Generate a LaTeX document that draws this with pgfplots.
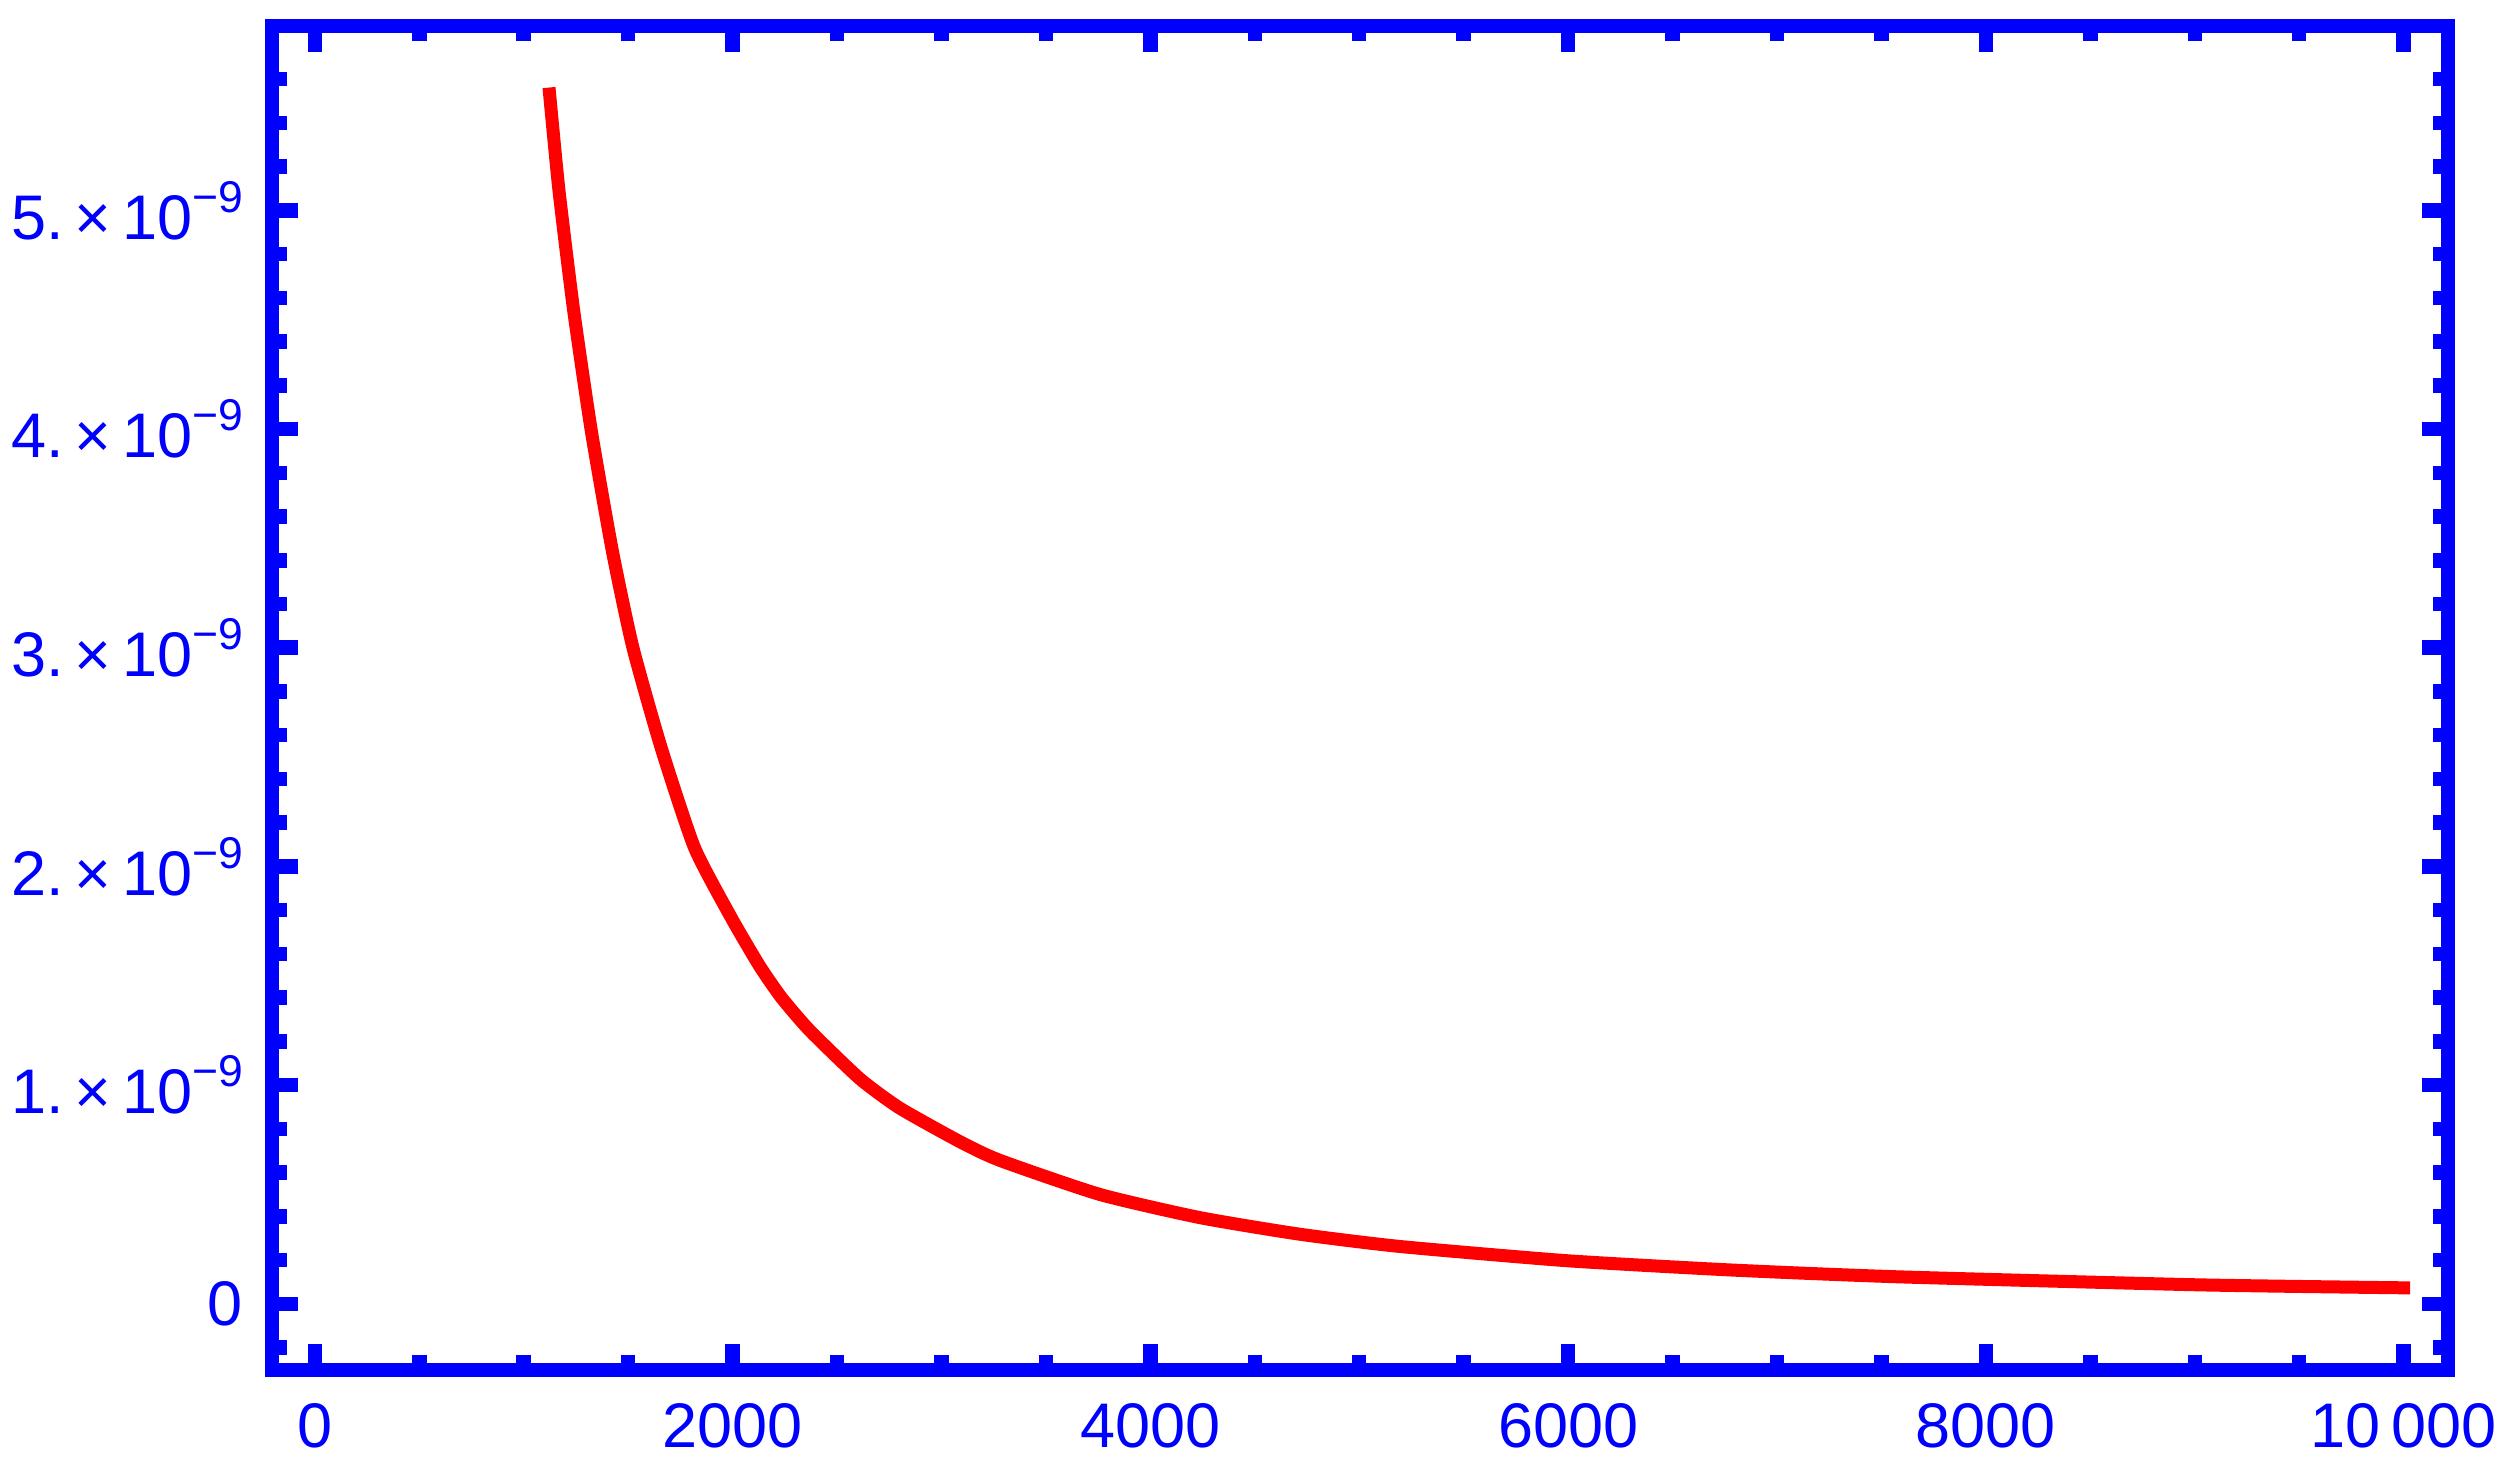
\documentclass[border=0pt]{standalone}
\usepackage{fontspec}
\setmainfont{Liberation Sans}
\usepackage{pgfplots}
\pgfplotsset{compat=1.18}

% Mathematica style "n. x 10^-9" label, set in the text font
\newcommand{\sci}[1]{#1.\,×\,10\raisebox{5.4pt}{\fontsize{8.9}{10}\selectfont −9}}

\begin{document}
\begin{tikzpicture}
\begin{axis}[
  name=ax,
  scale only axis,
  width=435.1pt, height=268.8pt,
  xmin=-205, xmax=10210,
  ymin=-0.303e-9, ymax=5.843e-9,
  axis line style={blue, line width=2.8pt, line cap=rect},
  tick align=inside,
  every tick/.append style={blue, line width=2.9pt},
  major tick length=5.2pt,
  minor tick length=3pt,
  xtick={0,2000,4000,6000,8000,10000},
  xticklabels={0,2000,4000,6000,8000,10\,000},
  minor xtick={500,1000,1500,2500,3000,3500,4500,5000,5500,6500,7000,7500,8500,9000,9500},
  ytick={0,1e-9,2e-9,3e-9,4e-9,5e-9},
  yticklabels={0,\sci{1},\sci{2},\sci{3},\sci{4},\sci{5}},
  minor ytick={-2e-10,2e-10,4e-10,6e-10,8e-10,1.2e-9,1.4e-9,1.6e-9,1.8e-9,
    2.2e-9,2.4e-9,2.6e-9,2.8e-9,3.2e-9,3.4e-9,3.6e-9,3.8e-9,
    4.2e-9,4.4e-9,4.6e-9,4.8e-9,5.2e-9,5.4e-9,5.6e-9},
  ticklabel style={text=blue, font=\fontsize{12.6}{15}\selectfont, inner sep=0pt},
  xticklabel style={anchor=north, yshift=-6.4pt},
  yticklabel style={anchor=east, xshift=-5.6pt},
  scaled x ticks=false,
  scaled y ticks=false,
]
\addplot[red, line width=2.6pt, line cap=rect, line join=round, smooth, tension=0.35] coordinates {
  (1124, 5.532e-9)
  (1169, 5.090e-9)
  (1239, 4.544e-9)
  (1324, 3.990e-9)
  (1425, 3.440e-9)
  (1523, 3.000e-9)
  (1659, 2.540e-9)
  (1818, 2.085e-9)
  (1994, 1.765e-9)
  (2129, 1.545e-9)
  (2234, 1.400e-9)
  (2369, 1.250e-9)
  (2608, 1.030e-9)
  (2800, 0.895e-9)
  (3087, 0.742e-9)
  (3279, 0.656e-9)
  (3758, 0.500e-9)
  (4237, 0.394e-9)
  (4716, 0.318e-9)
  (5195, 0.262e-9)
  (5993, 0.197e-9)
  (6791, 0.154e-9)
  (7590, 0.123e-9)
  (9025, 0.0865e-9)
  (10000, 0.073e-9)
};
\end{axis}
\path (ax.south west) ++(-54.4pt,-19.8pt) coordinate (bl);
\path (ax.north east) ++(11.1pt,5.2pt) coordinate (tr);
\path (bl) rectangle (tr);
\end{tikzpicture}
\end{document}
